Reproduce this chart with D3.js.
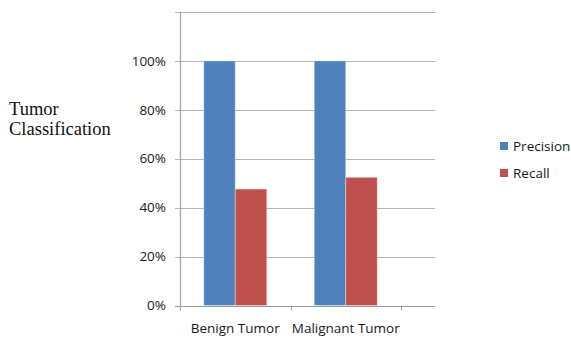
<!DOCTYPE html>
<html>
<head>
<meta charset="utf-8">
<script src="https://cdn.jsdelivr.net/npm/d3@7"></script>
<style>
  html, body { margin: 0; padding: 0; background: #fff; }
  svg { display: block; }
</style>
</head>
<body>
<svg id="chart" width="571" height="338"></svg>
<script>
// Classification performance per tumor class
const categories = ["Benign Tumor", "Malignant Tumor"];
const seriesNames = ["Precision", "Recall"];
const precision = [1.0, 1.0];
const recall = [0.476, 0.524];
const yTicks = [0, 0.2, 0.4, 0.6, 0.8, 1.0, 1.2];
const colors = ["#4F81BD", "#C0504D"];

const svg = d3.select("#chart");
const sans = "'Open Sans', 'Liberation Sans', sans-serif";

const plot = { left: 180, right: 435, top: 12, bottom: 305.5 };

const y = d3.scaleLinear().domain([0, 1.2]).range([plot.bottom, plot.top]);
const x0 = d3.scaleBand().domain(categories).range([plot.left, 401]).paddingInner(0).paddingOuter(0);
const x1 = d3.scaleBand().domain(seriesNames).range([0, x0.bandwidth()]).paddingInner(0).paddingOuter(0.754);

const values = [precision, recall];

// horizontal gridlines
svg.append("g")
  .selectAll("line")
  .data(yTicks)
  .join("line")
  .attr("x1", plot.left - 5)
  .attr("x2", plot.right)
  .attr("y1", d => Math.round(y(d)) + 0.5)
  .attr("y2", d => Math.round(y(d)) + 0.5)
  .attr("stroke", d => d === 0 ? "#9a9a9a" : "#b4b4b4")
  .attr("stroke-width", 1.2);

// y tick labels (the top gridline carries no label)
svg.append("g")
  .selectAll("text")
  .data(yTicks.filter(d => d <= 1.0))
  .join("text")
  .attr("x", 166)
  .attr("y", d => y(d))
  .attr("dy", "0.35em")
  .attr("text-anchor", "end")
  .attr("font-family", sans)
  .attr("font-size", 13.5)
  .attr("fill", "#1a1a1a")
  .text(d => d3.format(".0%")(d));

// bars
const groups = svg.append("g")
  .selectAll("g")
  .data(categories)
  .join("g")
  .attr("transform", d => `translate(${x0(d)},0)`);

groups.selectAll("rect")
  .data((d, i) => seriesNames.map((s, j) => ({ s, v: values[j][i], c: colors[j] })))
  .join("rect")
  .attr("x", d => x1(d.s))
  .attr("width", x1.bandwidth())
  .attr("y", d => y(d.v))
  .attr("height", d => y(0) - y(d.v))
  .attr("fill", d => d.c)
  .attr("stroke", "rgba(255,255,255,0.35)")
  .attr("stroke-width", 1);

// vertical axis line
svg.append("line")
  .attr("x1", plot.left + 0.5).attr("x2", plot.left + 0.5)
  .attr("y1", plot.top).attr("y2", plot.bottom + 5)
  .attr("stroke", "#a8a8a8")
  .attr("stroke-width", 1.3);

// category boundary ticks
const bounds = [plot.left, ...categories.map(c => x0(c) + x0.bandwidth())];
svg.append("g")
  .selectAll("line")
  .data(bounds.slice(1))
  .join("line")
  .attr("x1", d => Math.round(d) + 0.5)
  .attr("x2", d => Math.round(d) + 0.5)
  .attr("y1", plot.bottom)
  .attr("y2", plot.bottom + 5)
  .attr("stroke", "#a8a8a8");

// category labels
svg.append("g")
  .selectAll("text")
  .data(categories)
  .join("text")
  .attr("x", d => x0(d) + x0.bandwidth() / 2)
  .attr("y", 333)
  .attr("text-anchor", "middle")
  .attr("font-family", sans)
  .attr("font-size", 13.5)
  .attr("fill", "#1a1a1a")
  .text(d => d);

// axis title
const title = svg.append("text")
  .attr("font-family", "'Liberation Serif', 'Times New Roman', serif")
  .attr("font-size", 18.5)
  .attr("fill", "#111");
title.append("tspan").attr("x", 9).attr("y", 115).text("Tumor");
title.append("tspan").attr("x", 9).attr("y", 135).text("Classification");

// legend
const legend = svg.append("g")
  .selectAll("g")
  .data(seriesNames)
  .join("g")
  .attr("transform", (d, i) => `translate(500,${146 + i * 27})`);
legend.append("rect")
  .attr("x", 0).attr("y", -4).attr("width", 8).attr("height", 8)
  .attr("fill", (d, i) => colors[i]);
legend.append("text")
  .attr("x", 13).attr("y", 0).attr("dy", "0.35em")
  .attr("font-family", sans)
  .attr("font-size", 13.5)
  .attr("fill", "#1a1a1a")
  .text(d => d);
</script>
</body>
</html>
